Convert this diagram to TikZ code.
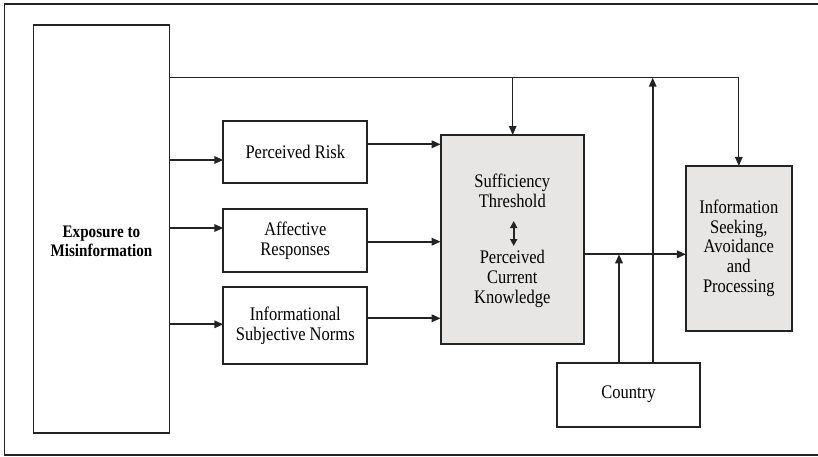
\documentclass[tikz,border=0pt]{standalone}
\usepackage{fontspec}
\setmainfont{Liberation Serif}[FakeStretch=0.86]
\usetikzlibrary{arrows.meta}
\definecolor{boxgray}{RGB}{232,230,228}
\definecolor{linegray}{RGB}{35,35,35}
\begin{document}
\begin{tikzpicture}[x=1pt,y=-1pt,
  every node/.style={inner sep=0pt, outer sep=0pt},
  txt/.style={font=\fontsize{19.2}{19.7}\selectfont, align=center},
  plainbox/.style={draw=linegray, line width=1.8pt, fill=white},
  graybox/.style={draw=linegray, line width=1.8pt, fill=boxgray},
  arr/.style={draw=linegray, line width=1.7pt, -{Triangle[length=9pt,width=7.5pt]}},
  ln/.style={draw=linegray, line width=1.7pt}]
\useasboundingbox (0,0) rectangle (818,456);
\draw[draw=linegray, line width=1.3pt] (818,4) -- (4.3,4) -- (4.3,455) -- (818,455);

% boxes
\node[plainbox, minimum width=136pt, minimum height=408pt] (exp) at (101.4,229.2) {};
\node[txt, font=\bfseries\fontsize{17.6}{19.2}\selectfont] (exptxt) at (101.4,241) {Exposure to\\Misinformation};
\node[plainbox, txt, minimum width=144pt, minimum height=62.6pt] (pr) at (295.3,152) {Perceived Risk};
\node[plainbox, txt, minimum width=144pt, minimum height=63.6pt] (ar) at (295.3,240.5) {Affective\\Responses};
\node[plainbox, txt, minimum width=144pt, minimum height=77.6pt] (isn) at (295.3,325.5) {Informational\\Subjective Norms};
\node[graybox, minimum width=143.3pt, minimum height=209pt] (sc) at (512.3,239.5) {};
\node[txt] (suff) at (512.3,191) {Sufficiency\\Threshold};
\node[txt] (pck) at (512.3,279) {Perceived\\Current\\Knowledge};
\node[graybox, txt, minimum width=105.7pt, minimum height=164.7pt] (info) at (738.8,248.3) {Information\\Seeking,\\Avoidance\\and\\Processing};
\node[plainbox, txt, minimum width=143.6pt, minimum height=64pt] (country) at (628.5,394.7) {Country};

% double arrow inside SC
\coordinate (da1) at (513.7,221);
\coordinate (da2) at (513.7,246);
\draw[ln, {Triangle[length=7pt,width=7pt]}-{Triangle[length=7pt,width=7pt]}] (da1) -- (da2);

% exposure to mediators
\draw[arr] (exp.east |- 0,160) -- (pr.west |- 0,160);
\draw[arr] (exp.east |- 0,228) -- (ar.west |- 0,228);
\draw[arr] (exp.east |- 0,324.3) -- (isn.west |- 0,324.3);

% mediators to SC
\draw[arr] (pr.east |- 0,144.3) -- (sc.west |- 0,144.3);
\draw[arr] (ar.east |- 0,241.7) -- (sc.west |- 0,241.7);
\draw[arr] (isn.east |- 0,318.3) -- (sc.west |- 0,318.3);

% top line
\coordinate (topL) at (exp.east |- 0,77.7);
\coordinate (topSC) at (512.7,77.7);
\coordinate (topC) at (652.7,77.7);
\draw[arr, line width=1.3pt] (topL) -| (info.north);
\draw[arr, line width=1.3pt] (topSC) -- (sc.north -| topSC);

% SC to info
\coordinate (midC) at (619,254.3);
\draw[arr] (sc.east |- midC) -- (info.west |- midC);

% country moderators
\draw[arr] (country.north -| midC) -- (midC);
\draw[arr] (country.north -| topC) -- (topC);
\end{tikzpicture}
\end{document}
